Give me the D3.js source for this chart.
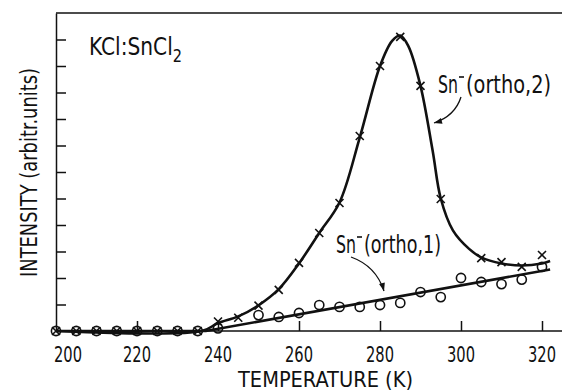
<!DOCTYPE html>
<html>
<head>
<meta charset="utf-8">
<script src="https://cdn.jsdelivr.net/npm/d3@7"></script>
<style>
  body { margin: 0; background: #fff; }
  svg { display: block; }
  text { font-family: "DejaVu Sans Condensed", "DejaVu Sans", sans-serif; font-stretch: condensed; fill: #111; }
</style>
</head>
<body>
<svg></svg>
<script>
const WIDTH = 562;
const HEIGHT = 391;

// measured points, temperature in K, intensity in arbitrary units
const temps1 = [200, 205, 210, 215, 220, 225, 230, 235, 240, 250, 255, 260, 265, 270, 275, 280, 285, 290, 295, 300, 305, 310, 315, 320];
const ortho1 = [0, 0, 0, 0, 0, 0, 0, 0, 0.1, 0.6, 0.53, 0.68, 0.98, 0.91, 0.91, 0.98, 1.06, 1.47, 1.28, 2.0, 1.85, 1.77, 1.94, 2.42];

const temps2 = [200, 205, 210, 215, 220, 225, 230, 235, 240, 245, 250, 255, 260, 265, 270, 275, 280, 285, 290, 295, 305, 310, 315, 320];
const ortho2 = [0, 0, 0, 0, 0, 0, 0, 0, 0.36, 0.5, 0.96, 1.55, 2.57, 3.7, 4.83, 7.36, 10.0, 11.1, 9.25, 4.98, 2.75, 2.6, 2.42, 2.87];

// hand drawn fit curves
const fit1T = [200, 237, 322];
const fit1V = [0, 0, 2.32];
const fit2T = [200, 236, 240, 245, 250, 255, 260, 265, 270, 275, 280, 283, 285, 287, 290, 293, 295, 298, 302, 305, 310, 315, 320, 322];
const fit2V = [0, 0, 0.3, 0.55, 0.97, 1.58, 2.55, 3.7, 4.85, 7.3, 10.0, 10.95, 11.15, 10.75, 9.25, 6.8, 5.0, 3.8, 3.1, 2.78, 2.55, 2.47, 2.55, 2.64];

const xTicks = [200, 220, 240, 260, 280, 300, 320];
const yTicks = [1, 2, 3, 4, 5, 6, 7, 8, 9, 10, 11];

// the figure uses a narrow lettering, so widths are fixed with textLength
function label(parent, str, x, y, size, width) {
  return parent.append('text')
      .attr('x', x)
      .attr('y', y)
      .attr('font-size', size)
      .attr('textLength', width)
      .attr('lengthAdjust', 'spacingAndGlyphs')
      .text(str);
}

window.onload = () => {
  const svg = d3.select('svg')
      .attr('width', WIDTH)
      .attr('height', HEIGHT);

  const x = d3.scaleLinear().domain([200, 320]).range([56, 542]);
  const y = d3.scaleLinear().domain([0, 12]).range([331, 13]);

  // frame: left axis with inward ticks, top line, bottom axis
  svg.append('g')
      .attr('transform', `translate(${x(200)},0)`)
      .call(d3.axisRight(y).tickValues(yTicks).tickSize(10).tickSizeOuter(0).tickFormat(''))
      .call((g) => g.selectAll('path, line').attr('stroke', '#111').attr('stroke-width', 1.5));

  const xAxis = svg.append('g')
      .attr('transform', `translate(0,${y(0)})`)
      .call(d3.axisTop(x).tickValues(xTicks.slice(1)).tickSize(10).tickSizeOuter(0).tickFormat(''));
  xAxis.select('.domain').remove();
  xAxis.selectAll('line').attr('stroke', '#111').attr('stroke-width', 1.5);

  svg.append('line')
      .attr('x1', x(200)).attr('x2', WIDTH)
      .attr('y1', y(0)).attr('y2', y(0))
      .attr('stroke', '#111').attr('stroke-width', 1.5);
  svg.append('line')
      .attr('x1', x(200)).attr('x2', WIDTH)
      .attr('y1', y(12)).attr('y2', y(12))
      .attr('stroke', '#111').attr('stroke-width', 1.5);

  // tick labels sit below the axis
  const tickG = svg.append('g');
  xTicks.forEach((d) => {
    const cx = d === 200 ? x(d) + 12 : x(d);
    label(tickG, d, cx - 14, 362, 21, 28);
  });

  label(svg, 'TEMPERATURE (K)', 238, 387, 22, 175);

  const yLab = svg.append('g')
      .attr('transform', 'translate(37,277) rotate(-90)');
  label(yLab, 'INTENSITY (arbitr.units)', 0, 0, 23, 209);

  // fit curves
  const line = d3.line()
      .x((d) => x(d[0]))
      .y((d) => y(d[1]));

  svg.append('path')
      .datum(d3.zip(fit1T, fit1V))
      .attr('d', line.curve(d3.curveLinear))
      .attr('fill', 'none')
      .attr('stroke', '#111')
      .attr('stroke-width', 2.6);
  svg.append('path')
      .datum(d3.zip(fit2T, fit2V))
      .attr('d', line.curve(d3.curveCatmullRom.alpha(0.5)))
      .attr('fill', 'none')
      .attr('stroke', '#111')
      .attr('stroke-width', 2.6);

  // markers
  svg.append('g').selectAll('circle')
      .data(d3.zip(temps1, ortho1))
      .join('circle')
      .attr('cx', (d) => x(d[0]))
      .attr('cy', (d) => y(d[1]))
      .attr('r', 4.6)
      .attr('fill', 'none')
      .attr('stroke', '#111')
      .attr('stroke-width', 1.6);

  svg.append('g').selectAll('path')
      .data(d3.zip(temps2, ortho2))
      .join('path')
      .attr('transform', (d) => `translate(${x(d[0])},${y(d[1])})`)
      .attr('d', 'M-4,-4L4,4M-4,4L4,-4')
      .attr('fill', 'none')
      .attr('stroke', '#111')
      .attr('stroke-width', 1.6);

  // sample label, subscript kept in the same text
  const sample = label(svg, 'KCl:SnCl', 89, 55, 25, 93);
  sample.append('tspan')
      .attr('dy', 7)
      .attr('font-size', 18)
      .text('2');

  const notes = [
    {text: '(ortho,2)', x: 438, y: 93, w: 85, path: 'M461,97 Q455,116 434,123', tip: [434, 123], ang: 165},
    {text: '(ortho,1)', x: 336, y: 253, w: 77, path: 'M351,257 Q376,266 384,291', tip: [384, 291], ang: 75},
  ];
  notes.forEach((n) => {
    label(svg, 'Sn', n.x, n.y, 24, 20);
    svg.append('line')
        .attr('x1', n.x + 21).attr('x2', n.x + 26)
        .attr('y1', n.y - 16).attr('y2', n.y - 16)
        .attr('stroke', '#111').attr('stroke-width', 1.6);
    label(svg, n.text, n.x + 28, n.y, 24, n.w);
    svg.append('path')
        .attr('d', n.path)
        .attr('fill', 'none')
        .attr('stroke', '#111')
        .attr('stroke-width', 1.3);
    svg.append('path')
        .attr('transform', `translate(${n.tip[0]},${n.tip[1]}) rotate(${n.ang})`)
        .attr('d', 'M0,0L-8,-3L-8,3Z')
        .attr('fill', '#111');
  });
};
</script>
</body>
</html>
